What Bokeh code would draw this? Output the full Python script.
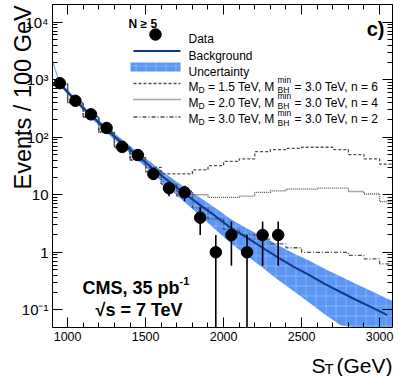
import math
from bokeh.plotting import figure
from bokeh.models import (Range1d, FixedTicker, LogAxis, LinearAxis, Label,
                          ColumnDataSource, CustomJSTickFormatter)
from bokeh.embed import file_html
from bokeh.resources import INLINE

# ---------------- data ----------------
st_data = [950, 1050, 1150, 1250, 1350, 1450, 1550, 1650, 1750, 1850, 1950, 2050, 2150, 2250, 2350]
events_data = [870, 430, 250, 145, 68, 49, 23, 13, 11, 4, 1, 2, 1, 2, 2]

bkg_st = [950, 1050, 1150, 1250, 1350, 1450, 1550, 1650, 1750, 1850, 1950,
          2050, 2150, 2250, 2350, 2450, 2550, 2650, 2750, 2850, 2950, 3050]
bkg_fit = [851, 437, 240, 135, 79, 47, 28, 17, 10.5, 6.6, 4.2,
           2.6, 1.8, 1.2, 0.81, 0.56, 0.40, 0.28, 0.204, 0.148, 0.110, 0.081]

band_st = [905, 925, 950, 1050, 1150, 1250, 1350, 1450, 1550, 1650, 1750, 1850, 1950,
           2050, 2150, 2250, 2350, 2450, 2550, 2650, 2750, 2850, 2950, 3050, 3080]
band_hi = [2190, 1480, 933, 479, 263, 151, 91, 55, 34, 21, 13.5, 8.9, 5.8,
           3.7, 2.6, 1.86, 1.32, 0.95, 0.71, 0.51, 0.38, 0.28, 0.21, 0.155, 0.143]
band_lo = [1905, 1290, 776, 398, 214, 120, 69, 40, 23, 12.9, 7.4, 4.3, 2.45,
           1.41, 0.87, 0.54, 0.33, 0.21, 0.132, 0.083, 0.054, 0.035, 0.022, 0.014, 0.012]

bin_edges = [900, 1000, 1100, 1200, 1300, 1400, 1500, 1600, 1700, 1800, 1900, 2000,
             2100, 2200, 2300, 2400, 2500, 2600, 2700, 2800, 2900, 3000, 3100]
sig_md15_n6 = [850, 400, 230, 125, 70, 44, 30, 23, 23, 27, 32, 38, 42, 56, 61, 64, 67, 67, 61, 50, 42, 34]
sig_md20_n4 = [850, 400, 225, 122, 66, 41, 26, 15, 11.5, 10, 9, 9, 9.5, 11, 11.7, 12.5, 12.5, 13, 13, 11.4, 10.3, 7.6]
sig_md30_n2 = [850, 400, 225, 120, 66, 40, 25, 15.5, 9.5, 6, 3.8, 2.5, 2.0, 1.7, 1.4, 1.2, 1.0, 1.0, 1.0, 0.88, 0.77, 0.63]

x_ticks = [1000, 1500, 2000, 2500, 3000]
y_ticks = [0.1, 1, 10, 100, 1000, 10000]
y_tick_labels = ["10\u207b\u00b9", "1", "10", "10\u00b2", "10\u00b3", "10\u2074"]

legend_rows = [
    ("1.5", "6", "3 2"),
    ("2.0", "4", "1 1"),
    ("3.0", "2", "4 2 1 2"),
]

# ---------------- geometry / style ----------------
FONT = "Liberation Sans"
BAND = "#5a95f5"
LINE = "#12378f"
GRAY = "#505050"

W_, H_ = 399, 376
FL, FR, FT, FB = 52, 392, 4, 327            # visible axes box, canvas pixels
XV = (903.2, 3082.7)                          # visible x extent (GeV)
LV = (-1.3077, 4.3077)                        # visible log10(y) extent
YV = (10 ** LV[0], 10 ** LV[1])

# the Bokeh frame covers the whole canvas so that texts outside the axes box are not clipped;
# the axes box itself is drawn by fixed-location axes.
xpp = (XV[1] - XV[0]) / (FR - FL)
lpp = (LV[1] - LV[0]) / (FB - FT)
XF = (XV[0] - FL * xpp, XV[1] + (W_ - FR) * xpp)
LF = (LV[0] - (H_ - FB) * lpp, LV[1] + FT * lpp)

p = figure(width=W_, height=H_, title=None,
           x_range=Range1d(*XF), y_range=Range1d(10 ** LF[0], 10 ** LF[1]),
           y_axis_type="log", output_backend="svg", toolbar_location=None,
           min_border_left=0, min_border_right=0, min_border_top=0, min_border_bottom=0)
p.xgrid.visible = False
p.ygrid.visible = False
p.outline_line_color = None
p.background_fill_color = "white"
p.border_fill_color = "white"


def xd(px):
    return XF[0] + px * xpp


def yd(py):
    return 10 ** (LF[1] - py * lpp)


def clip_x(v):
    return min(max(v, XV[0]), XV[1])


def clip_y(v):
    return min(max(v, YV[0]), YV[1])


xt = FixedTicker(ticks=x_ticks, minor_ticks=list(range(1000, 3001, 100)))
yt = FixedTicker(ticks=y_ticks, minor_ticks=[m * 10.0 ** k for k in range(-1, 5) for m in range(2, 10)])
yfmt = CustomJSTickFormatter(args=dict(yvals=y_ticks, ylabs=y_tick_labels), code="""
const i = yvals.findIndex(t => Math.abs(Math.log10(t) - Math.log10(tick)) < 1e-6);
return i >= 0 ? ylabs[i] : '';
""")


def style(ax, show, loc, bounds):
    ax.fixed_location = loc
    ax.bounds = bounds
    ax.major_tick_in = 10
    ax.major_tick_out = 0
    ax.minor_tick_in = 5
    ax.minor_tick_out = 0
    ax.axis_line_color = "black"
    ax.axis_line_width = 1
    ax.major_tick_line_color = "black"
    ax.minor_tick_line_color = "black"
    ax.major_label_text_font = FONT
    ax.major_label_text_color = "black"
    if not show:
        ax.major_label_text_font_size = "0px"
        ax.major_label_text_alpha = 0
        ax.major_label_standoff = 0


xa = p.xaxis[0]
xa.ticker = xt
style(xa, True, YV[0], XV)
xa.major_label_text_font_size = "12.5px"
xa.major_label_standoff = 4

ya = p.yaxis[0]
ya.ticker = yt
ya.formatter = yfmt
style(ya, True, XV[0], YV)
ya.major_label_text_font_size = "15px"
ya.major_label_standoff = 4

top_ax = LinearAxis(ticker=xt)
style(top_ax, False, YV[1], XV)
p.add_layout(top_ax, "above")
right_ax = LogAxis(ticker=yt)
style(right_ax, False, XV[1], YV)
p.add_layout(right_ax, "right")

# ---------------- glyphs ----------------
p.varea(x=band_st, y1=[clip_y(v) for v in band_lo], y2=[clip_y(v) for v in band_hi],
        fill_color=BAND, fill_alpha=1.0,
        hatch_pattern="+", hatch_color="white", hatch_alpha=0.35, hatch_scale=10, hatch_weight=0.7)

edges_c = [clip_x(e) for e in bin_edges]
for vals, dash in [(sig_md15_n6, "3 2"), (sig_md20_n4, "1 1"), (sig_md30_n2, "4 2 1 2")]:
    p.step(x=edges_c, y=vals + [vals[-1]], mode="after", line_color=GRAY,
           line_width=1.3, line_dash=dash)

p.line(x=bkg_st, y=bkg_fit, line_color=LINE, line_width=2)

err = [math.sqrt(n) for n in events_data]
src = ColumnDataSource(dict(
    x=st_data, y=events_data,
    lo=[clip_y(n - e) for n, e in zip(events_data, err)],
    hi=[clip_y(n + e) for n, e in zip(events_data, err)]))
p.segment(x0="x", y0="lo", x1="x", y1="hi", source=src, line_color="black", line_width=1.6)
p.scatter(x="x", y="y", source=src, marker="circle", size=11.5, fill_color="black", line_color="black")


# ---------------- texts (canvas pixel positions) ----------------
def label(text, px, py, size, bold=False, align="left", angle=0.0):
    p.add_layout(Label(x=px, y=H_ - py, x_units="screen", y_units="screen", text=text,
                       text_font=FONT, text_font_size=f"{size}px",
                       text_font_style="bold" if bold else "normal",
                       text_color="black", text_align=align, text_baseline="alphabetic",
                       angle=angle))


WID = {' ': 278, '=': 584, '.': 278, ',': 278, 'T': 611, 'e': 556, 'V': 667, 'n': 556,
       'M': 833, 'D': 722, 'B': 667, 'H': 722, 'm': 833, 'i': 222}


def tw(s, size):
    return sum(WID.get(c, 556) for c in s) * size / 1000.0


# axis titles
label("Events / 100 GeV", 22, 189, 23.5, angle=math.pi / 2)
label("S", 311, 365, 21)
label("T", 324, 367.5, 15)
label("(GeV)", 336, 365, 21)

# corner tag
label("c)", 384, 28, 20, bold=True, align="right")

# CMS text
label("CMS, 35 pb", 82, 287, 18, bold=True)
label("-1", 179, 280, 11, bold=True)
label("\u221as = 7 TeV", 95, 309, 18, bold=True)

# legend (swatches placed via the plot's own scales)
label("N \u2265 5", 128, 23, 12, bold=True)
p.scatter(x=[xd(155)], y=[yd(34)], marker="circle", size=11.5, fill_color="black", line_color="black")
label("Data", 188, 38.5, 12)
p.line(x=[xd(133), xd(180)], y=[yd(50.5), yd(50.5)], line_color=LINE, line_width=2)
label("Background", 188, 55, 12)
p.quad(left=[xd(130)], right=[xd(180)], top=[yd(62)], bottom=[yd(71)], fill_color=BAND,
       line_color=None, hatch_pattern="+", hatch_color="white", hatch_alpha=0.35,
       hatch_scale=10, hatch_weight=0.7)
label("Uncertainty", 188, 71.5, 12)

row_line_y = [83, 99, 116.5]
row_base_y = [86, 102, 118.5]
for (md, n, dash), ly, by in zip(legend_rows, row_line_y, row_base_y):
    p.line(x=[xd(133), xd(180)], y=[yd(ly), yd(ly)], line_color=GRAY, line_width=1.3, line_dash=dash)
    x = 188
    label("M", x, by, 12)
    x += tw("M", 12)
    label("D", x, by + 3, 8.5)
    x += tw("D", 8.5) + tw(" ", 12)
    t1 = f"= {md} TeV, M"
    label(t1, x, by, 12)
    x += tw(t1, 12) + 0.5
    label("min", x, by - 6.5, 8.5)
    label("BH", x, by + 3.5, 8.5)
    x += max(tw("min", 8.5), tw("BH", 8.5)) + tw(" ", 12)
    label(f"= 3.0 TeV, n = {n}", x, by, 12)

open("out.html", "w").write(file_html(p, INLINE))
